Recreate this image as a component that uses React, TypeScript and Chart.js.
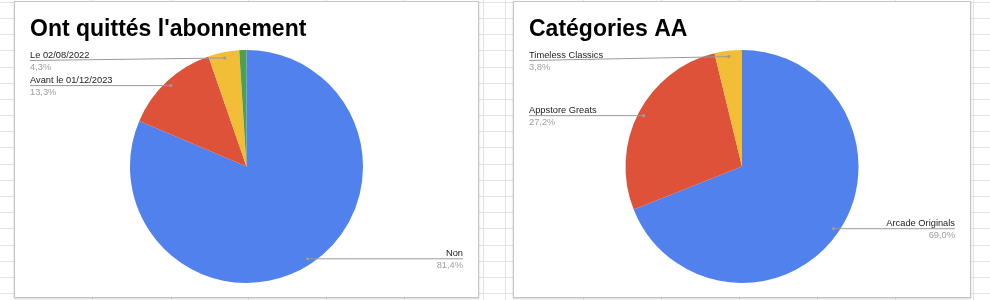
import React, { useEffect, useRef } from 'react';
import { Chart, registerables } from 'chart.js';

Chart.register(...registerables);

// ---- data ----
const chart1Title = "Ont quittés l'abonnement";
const chart1Labels = ['Non', 'Avant le 01/12/2023', 'Le 02/08/2022', 'Autre'];
const chart1Values = [81.4, 13.3, 4.3, 1.0];

const chart2Title = 'Catégories AA';
const chart2Labels = ['Arcade Originals', 'Appstore Greats', 'Timeless Classics'];
const chart2Values = [69.0, 27.2, 3.8];

const sliceColors = ['#5181EC', '#DD5239', '#F3BE37', '#4CA053'];

// ---- background sheet grid (decoration) ----
const gridRowCount = 19;
const gridRowStart = 1.7;
const gridRowStep = 16.2;
const gridColumns = [92, 171, 248, 326, 404, 483, 505, 583, 661, 739, 817, 895, 973];

const FONT = '"Liberation Sans", Arial, Helvetica, sans-serif';

const labelPlugin = {
  id: 'gLabels',
  afterDraw(chart: any) {
    const opts = chart.options.plugins.gLabels || {};
    const ctx: CanvasRenderingContext2D = chart.ctx;
    const W = chart.width;
    ctx.save();
    // title
    ctx.font = `bold 23px ${FONT}`;
    ctx.fillStyle = '#000000';
    ctx.textAlign = 'left';
    ctx.textBaseline = 'alphabetic';
    ctx.fillText(opts.title || '', 15, 34);

    const meta = chart.getDatasetMeta(0);
    const data: number[] = chart.data.datasets[0].data;
    const labels: string[] = chart.data.labels;
    const total = data.reduce((a, b) => a + b, 0);
    const items: any[] = [];
    meta.data.forEach((arc: any, i: number) => {
      const pct = (data[i] / total) * 100;
      if (pct < 2) return;
      const p = arc.getProps(['x', 'y', 'startAngle', 'endAngle', 'outerRadius'], true);
      const mid = (p.startAngle + p.endAngle) / 2;
      const r = p.outerRadius * 0.95;
      const dx = p.x + Math.cos(mid) * r;
      const dy = p.y + Math.sin(mid) * r;
      items.push({ i, dx, dy, left: dx < p.x, pct });
    });
    const place = (side: any[]) => {
      side.sort((a, b) => a.dy - b.dy);
      let prev = -Infinity;
      side.forEach((it) => {
        let ly = Math.max(it.dy, 58.5);
        if (ly < prev + 25) ly = prev + 25;
        it.ly = ly;
        prev = ly;
      });
    };
    place(items.filter((it) => it.left));
    place(items.filter((it) => !it.left));

    items.forEach((it) => {
      const lx = it.left ? 15 : W - 15;
      ctx.strokeStyle = '#9a9a9a';
      ctx.lineWidth = 1;
      ctx.beginPath();
      ctx.moveTo(it.dx, it.dy);
      ctx.lineTo(lx, it.ly);
      ctx.stroke();
      ctx.fillStyle = '#9a9a9a';
      ctx.beginPath();
      ctx.arc(it.dx, it.dy, 1.6, 0, Math.PI * 2);
      ctx.fill();

      ctx.textAlign = it.left ? 'left' : 'right';
      ctx.font = `9.3px ${FONT}`;
      ctx.fillStyle = '#222222';
      ctx.fillText(labels[it.i], lx, it.ly - 2.8);
      ctx.fillStyle = '#9e9e9e';
      ctx.fillText(it.pct.toFixed(1).replace('.', ',') + '%', lx, it.ly + 9.3);
    });
    ctx.restore();
  },
};

function PiePanel(props: { left: number; width: number; title: string; labels: string[]; values: number[] }) {
  const ref = useRef<HTMLCanvasElement | null>(null);
  useEffect(() => {
    const chart = new Chart(ref.current as HTMLCanvasElement, {
      type: 'pie',
      data: {
        labels: props.labels,
        datasets: [
          {
            data: props.values,
            backgroundColor: sliceColors.slice(0, props.values.length),
            borderWidth: 0,
          },
        ],
      },
      options: {
        responsive: false,
        animation: false,
        devicePixelRatio: 1,
        events: [],
        layout: { padding: { top: 48, bottom: 14, left: 0, right: 0 } },
        plugins: {
          legend: { display: false },
          tooltip: { enabled: false },
          // @ts-ignore
          gLabels: { title: props.title },
        },
      } as any,
      plugins: [labelPlugin as any],
    });
    return () => chart.destroy();
  }, []);
  return (
    <div
      style={{
        position: 'absolute',
        left: props.left,
        top: 1,
        width: props.width,
        height: 297,
        boxSizing: 'border-box',
        border: '1px solid #c4c4c4',
        boxShadow: '0 1px 2px rgba(0,0,0,0.18)',
        background: '#ffffff',
      }}
    >
      <canvas ref={ref} width={props.width - 2} height={295} style={{ display: 'block' }} />
    </div>
  );
}

export default function App() {
  const rows = [];
  for (let i = 0; i < gridRowCount; i++) {
    rows.push(
      <div
        key={'r' + i}
        style={{ position: 'absolute', left: 0, width: 990, top: Math.round(gridRowStart + i * gridRowStep), height: 1, background: '#e3e3e3' }}
      />
    );
  }
  const cols = gridColumns.map((x, i) => (
    <div key={'c' + i} style={{ position: 'absolute', top: 0, height: 300, left: x, width: 1, background: '#e3e3e3' }} />
  ));
  return (
    <div style={{ position: 'fixed', left: 0, top: 0, width: 990, height: 300, overflow: 'hidden', background: '#ffffff' }}>
      {rows}
      {cols}
      <PiePanel left={14} width={465} title={chart1Title} labels={chart1Labels} values={chart1Values} />
      <PiePanel left={513} width={458} title={chart2Title} labels={chart2Labels} values={chart2Values} />
    </div>
  );
}
